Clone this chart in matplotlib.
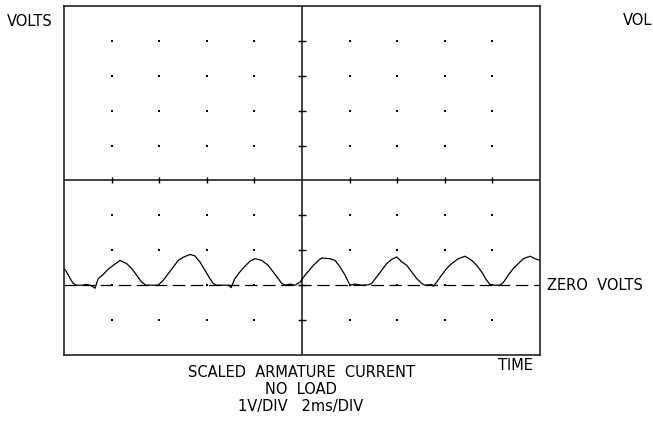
import matplotlib
matplotlib.use("Agg")
import matplotlib.pyplot as plt

# Scope settings: 10 x 10 divisions, 2 ms/div and 1 V/div
MS_PER_DIV = 2.0
N_DIV = 10
ZERO_DIV = -3  # trace zero sits three divisions below centre

# Trace (time in ms, volts above the zero line)
time_ms = [0.00, 0.11, 0.25, 0.39, 0.53, 0.76, 0.92, 1.09, 1.22, 1.30,
           1.44, 1.65, 1.86, 2.07, 2.35, 2.63, 2.84, 3.05, 3.26, 3.45,
           3.70, 3.95, 4.17, 4.38, 4.59, 4.80, 5.01, 5.29, 5.50, 5.71,
           5.92, 6.13, 6.27, 6.42, 6.68, 6.93, 7.02, 7.18, 7.39, 7.61,
           7.82, 8.03, 8.31, 8.58, 8.79, 9.00, 9.15, 9.29, 9.50, 9.71,
           9.92, 10.13, 10.27, 10.48, 10.69, 10.83, 11.18, 11.39, 11.60, 11.81,
           11.95, 12.02, 12.23, 12.52, 12.77, 12.93, 13.14, 13.35, 13.56, 13.77,
           13.98, 14.19, 14.40, 14.61, 14.82, 15.03, 15.17, 15.45, 15.52, 15.66,
           15.87, 16.08, 16.29, 16.57, 16.85, 17.13, 17.34, 17.55, 17.76, 17.90,
           18.11, 18.32, 18.46, 18.67, 18.88, 19.09, 19.30, 19.58, 19.79, 20.00]
volts = [0.48, 0.38, 0.20, 0.05, 0.00, 0.00, 0.02, 0.00, -0.04, -0.09,
         0.19, 0.31, 0.46, 0.57, 0.71, 0.62, 0.48, 0.29, 0.09, 0.00,
         0.00, 0.00, 0.14, 0.33, 0.52, 0.71, 0.80, 0.88, 0.84, 0.67,
         0.43, 0.19, 0.05, 0.00, 0.00, 0.00, -0.07, 0.19, 0.38, 0.55,
         0.69, 0.76, 0.71, 0.57, 0.38, 0.19, 0.05, 0.00, 0.03, 0.00,
         0.09, 0.29, 0.40, 0.57, 0.71, 0.78, 0.76, 0.71, 0.52, 0.29,
         0.09, 0.00, 0.03, 0.00, 0.01, 0.05, 0.24, 0.43, 0.62, 0.74,
         0.81, 0.67, 0.57, 0.38, 0.19, 0.05, 0.00, 0.02, -0.03, 0.09,
         0.29, 0.48, 0.62, 0.76, 0.83, 0.71, 0.57, 0.38, 0.14, 0.02,
         0.00, 0.00, 0.08, 0.29, 0.48, 0.62, 0.76, 0.83, 0.76, 0.71]

title_lines = ["SCALED  ARMATURE  CURRENT", "NO  LOAD", "1V/DIV   2ms/DIV"]

plt.rcParams["lines.scale_dashes"] = False
fig = plt.figure(figsize=(6.53, 4.22), dpi=100)
ax = fig.add_axes([64 / 653, 1 - 355 / 422, 476 / 653, 349 / 422])

x_max = N_DIV * MS_PER_DIV
ax.set_xlim(0, x_max)
ax.set_ylim(-N_DIV / 2, N_DIV / 2)
ax.set_xticks([])
ax.set_yticks([])
for sp in ax.spines.values():
    sp.set_linewidth(1.2)
    sp.set_color("#222222")

# Graticule: centre cross with small ticks, dots everywhere else
ax.axhline(0, color="#222222", lw=1.2)
ax.axvline(x_max / 2, color="#222222", lw=1.2)
cols = [i * MS_PER_DIV for i in range(1, N_DIV) if i != N_DIV // 2]
rows = [j for j in range(-N_DIV // 2 + 1, N_DIV // 2) if j != 0]
ax.plot(cols, [0] * len(cols), ls="none", marker="|", ms=5, mew=1, color="black")
ax.plot([x_max / 2] * len(rows), rows, ls="none", marker="_", ms=6, mew=1, color="black")
dx = [c for c in cols for r in rows]
dy = [r for c in cols for r in rows]
ax.plot(dx, dy, ls="none", marker="s", ms=2, mew=0, color="black")

# Zero volts reference and the trace
ax.axhline(ZERO_DIV, color="black", lw=0.9, ls=(0, (9, 4)))
ax.plot(time_ms, [v + ZERO_DIV for v in volts], color="black", lw=0.9)

# Labels placed like the scope printout
fs = 10.5
fig.text(7 / 653, 1 - 21.5 / 422, "VOLTS", fontsize=fs, va="center", ha="left")
fig.text(623 / 653, 1 - 20.5 / 422, "VOL", fontsize=fs, va="center", ha="left")
fig.text(547 / 653, 1 - 285 / 422, "ZERO  VOLTS", fontsize=fs, va="center", ha="left")
fig.text(533 / 653, 1 - 365 / 422, "TIME", fontsize=fs, va="center", ha="right")
for k, line in enumerate(title_lines):
    fig.text(301 / 653, 1 - (372.5 + 17 * k) / 422, line, fontsize=fs,
             va="center", ha="center")

plt.savefig("out.png", dpi=100)
plt.close()
